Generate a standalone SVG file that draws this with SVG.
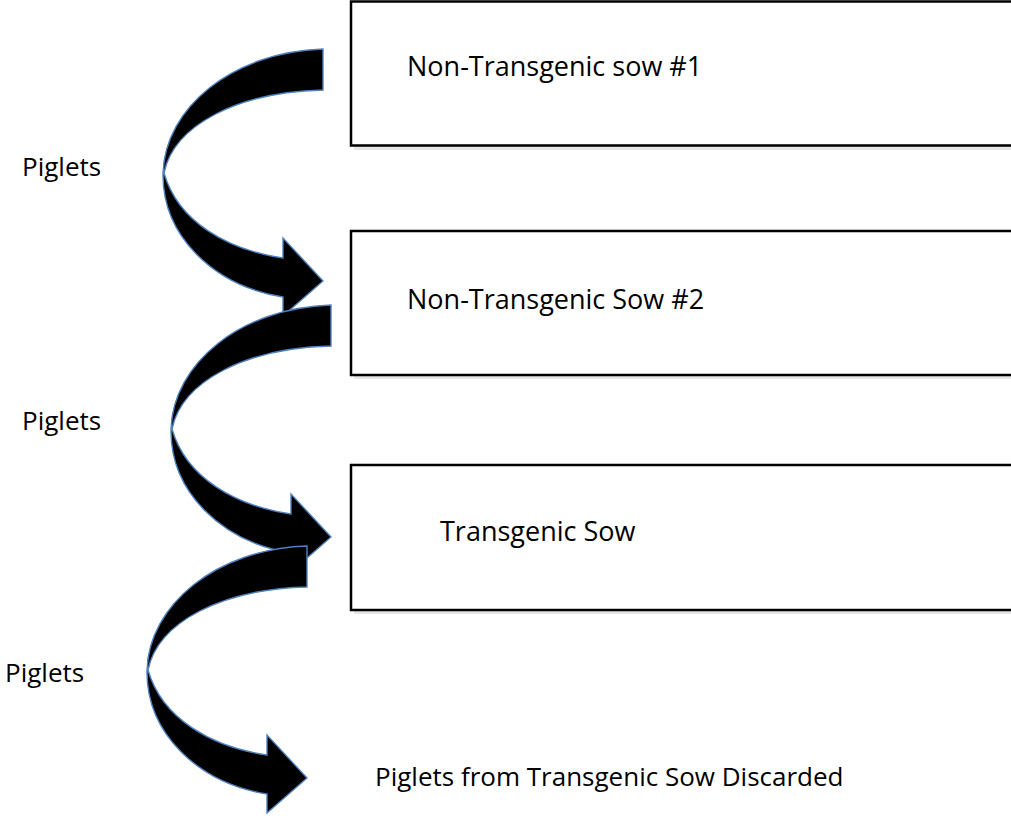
<svg xmlns="http://www.w3.org/2000/svg" width="1011" height="818" viewBox="0 0 1011 818">
<defs>
<style>
.box{fill:#fff;stroke:#000;stroke-width:2.5}
.shadow{fill:#e6e6e6}
.arrow{fill:#000;stroke:#4f81bd;stroke-width:1.4;stroke-linejoin:miter}
.t{font-family:"Open Sans","Liberation Sans",sans-serif;font-size:26px;fill:#000}
.tb{font-size:27px}
</style>
<path id="carrow" d="M323,49 C232,52 165,108 163,173 C162,236 214,286 283,297 L283,316 L323,281 L283,238 L283,258 C228,250 178,222 164,173 C174,125 238,92 323,90 Z"/>
</defs>
<rect width="1011" height="818" fill="#fff"/>
<g id="node-sow1">
<rect class="shadow" x="354" y="4" width="670" height="146"/>
<rect class="box" x="351" y="1.5" width="670" height="144"/>
<text class="t tb" x="407" y="76">Non-Transgenic sow #1</text>
</g>
<g id="node-sow2">
<rect class="shadow" x="354" y="234" width="670" height="145"/>
<rect class="box" x="351" y="231" width="670" height="144"/>
<text class="t tb" x="407" y="309">Non-Transgenic Sow #2</text>
</g>
<g id="node-transgenic">
<rect class="shadow" x="354" y="468" width="670" height="146"/>
<rect class="box" x="351" y="465" width="670" height="145"/>
<text class="t tb" x="440" y="541">Transgenic Sow</text>
</g>
<g id="node-discarded">
<text class="t" x="375" y="786">Piglets from Transgenic Sow Discarded</text>
</g>
<g id="connectors">
<use href="#carrow" class="arrow"/>
<use href="#carrow" class="arrow" transform="translate(8,256)"/>
<use href="#carrow" class="arrow" transform="translate(-16,497)"/>
<text class="t" x="22" y="176">Piglets</text>
<text class="t" x="22" y="430">Piglets</text>
<text class="t" x="5" y="682">Piglets</text>
</g>
</svg>
